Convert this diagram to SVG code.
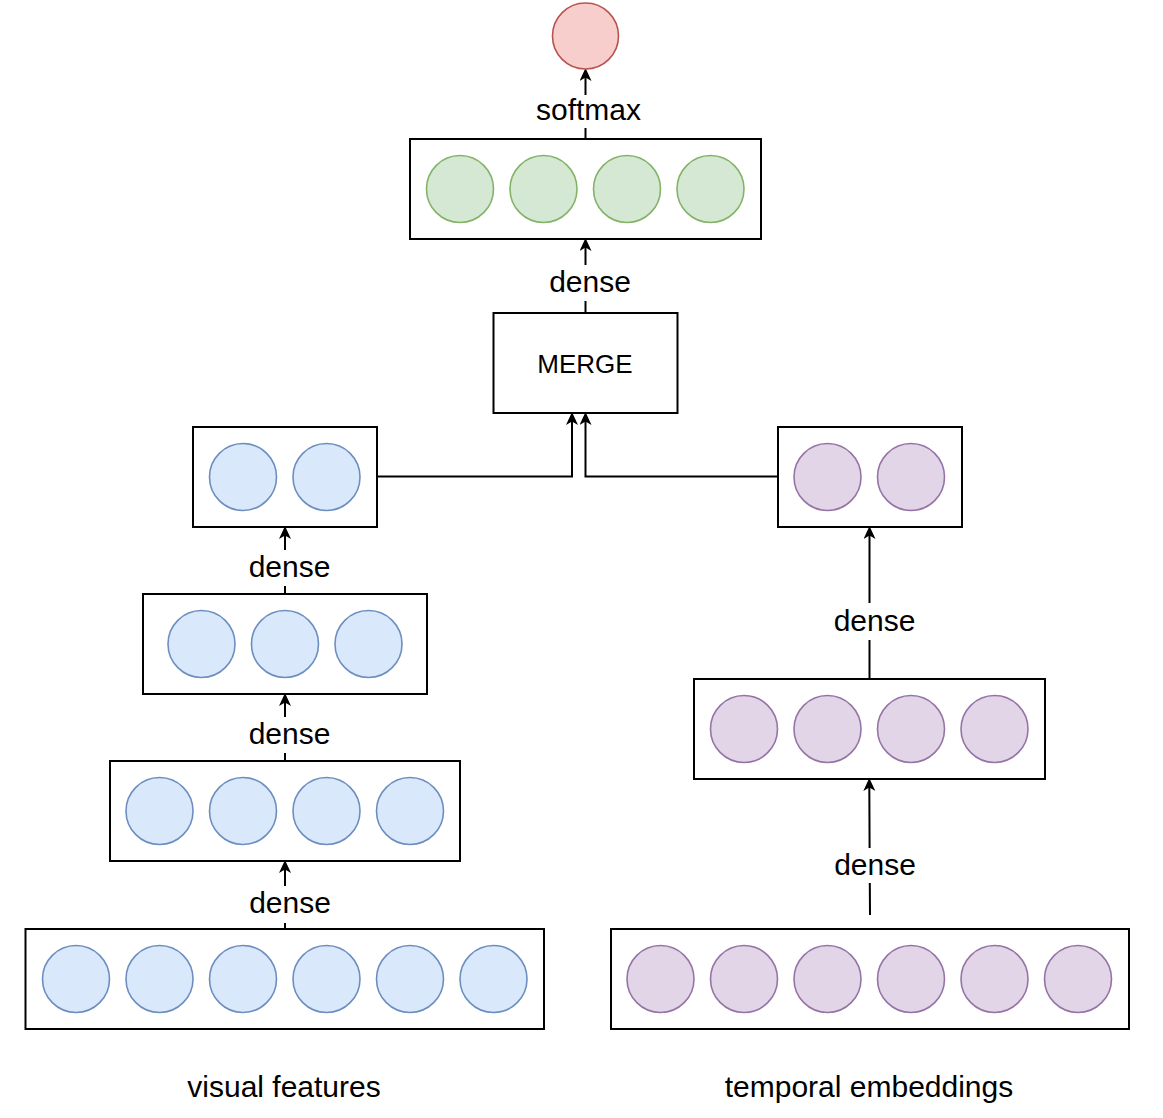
<svg xmlns="http://www.w3.org/2000/svg" width="1163" height="1118" viewBox="0 0 1163 1118">
<style>
.box{fill:#fff;stroke:#000;stroke-width:2}
.c{stroke-width:1.6}
.blue{fill:#dae8fc;stroke:#6c8ebf}
.purple{fill:#e1d5e7;stroke:#9673a6}
.green{fill:#d5e8d4;stroke:#82b366}
.red{fill:#f8cecc;stroke:#b85450}
.lbl{font-family:"Liberation Sans",Arial,sans-serif;font-size:30px;fill:#000;text-anchor:middle}
.conn{fill:none;stroke:#000;stroke-width:2}
</style>
<defs>
<marker id="arr" markerUnits="userSpaceOnUse" viewBox="0 0 13 12" refX="6" refY="6" markerWidth="13" markerHeight="12" orient="auto">
<path d="M0,0 L13,6 L0,12 L3.5,6 Z" fill="#000"/>
</marker>
</defs>
<g id="connectors">
<path class="conn" d="M585.5,139 V128 M585.5,95 V75" marker-end="url(#arr)"/>
<path class="conn" d="M585.5,313 V301 M585.5,265 V245" marker-end="url(#arr)"/>
<path class="conn" d="M377,476.5 H572 V419" marker-end="url(#arr)"/>
<path class="conn" d="M778,476.5 H585.5 V419" marker-end="url(#arr)"/>
<path class="conn" d="M285,594 V586 M285,550 V533" marker-end="url(#arr)"/>
<path class="conn" d="M285,761 V753 M285,717 V700" marker-end="url(#arr)"/>
<path class="conn" d="M285,929 V923 M285,886 V867" marker-end="url(#arr)"/>
<path class="conn" d="M869.5,679 V640 M869.5,603 V533" marker-end="url(#arr)"/>
<path class="conn" d="M870,915 L869.8,883 M869.6,848 L869.3,785" marker-end="url(#arr)"/>
</g>
<g id="output">
<circle class="c red" cx="585.5" cy="36" r="33"/>
</g>
<g id="label-softmax"><text class="lbl" x="588.5" y="119.5">softmax</text></g>
<g id="dense-out">
<rect class="box" x="410" y="139" width="351" height="100"/>
<circle class="c green" cx="460" cy="189" r="33.5"/>
<circle class="c green" cx="543.5" cy="189" r="33.5"/>
<circle class="c green" cx="627" cy="189" r="33.5"/>
<circle class="c green" cx="710.5" cy="189" r="33.5"/>
</g>
<g id="label-dense-top"><text class="lbl" x="590" y="292">dense</text></g>
<g id="merge">
<rect class="box" x="493.5" y="313" width="184" height="100"/>
<text class="lbl" x="585" y="372.5" style="font-size:26px">MERGE</text>
</g>
<g id="visual-2">
<rect class="box" x="193" y="427" width="184" height="100"/>
<circle class="c blue" cx="243" cy="477" r="33.5"/>
<circle class="c blue" cx="326.5" cy="477" r="33.5"/>
</g>
<g id="label-dense-v3"><text class="lbl" x="289.5" y="577">dense</text></g>
<g id="visual-3">
<rect class="box" x="143" y="594" width="284" height="100"/>
<circle class="c blue" cx="201.5" cy="644" r="33.5"/>
<circle class="c blue" cx="285" cy="644" r="33.5"/>
<circle class="c blue" cx="368.5" cy="644" r="33.5"/>
</g>
<g id="label-dense-v2"><text class="lbl" x="289.5" y="744">dense</text></g>
<g id="visual-4">
<rect class="box" x="110" y="761" width="350" height="100"/>
<circle class="c blue" cx="159.5" cy="811" r="33.5"/>
<circle class="c blue" cx="243" cy="811" r="33.5"/>
<circle class="c blue" cx="326.5" cy="811" r="33.5"/>
<circle class="c blue" cx="410" cy="811" r="33.5"/>
</g>
<g id="label-dense-v1"><text class="lbl" x="290" y="913">dense</text></g>
<g id="visual-6">
<rect class="box" x="25.5" y="929" width="518.5" height="100"/>
<circle class="c blue" cx="76" cy="979" r="33.5"/>
<circle class="c blue" cx="159.5" cy="979" r="33.5"/>
<circle class="c blue" cx="243" cy="979" r="33.5"/>
<circle class="c blue" cx="326.5" cy="979" r="33.5"/>
<circle class="c blue" cx="410" cy="979" r="33.5"/>
<circle class="c blue" cx="493.5" cy="979" r="33.5"/>
</g>
<g id="label-visual"><text class="lbl" x="284" y="1097">visual features</text></g>
<g id="temporal-2">
<rect class="box" x="778" y="427" width="184" height="100"/>
<circle class="c purple" cx="827.5" cy="477" r="33.5"/>
<circle class="c purple" cx="911" cy="477" r="33.5"/>
</g>
<g id="label-dense-t2"><text class="lbl" x="874.5" y="631">dense</text></g>
<g id="temporal-4">
<rect class="box" x="694" y="679" width="351" height="100"/>
<circle class="c purple" cx="744" cy="729" r="33.5"/>
<circle class="c purple" cx="827.5" cy="729" r="33.5"/>
<circle class="c purple" cx="911" cy="729" r="33.5"/>
<circle class="c purple" cx="994.5" cy="729" r="33.5"/>
</g>
<g id="label-dense-t1"><text class="lbl" x="875" y="875">dense</text></g>
<g id="temporal-6">
<rect class="box" x="611" y="929" width="518" height="100"/>
<circle class="c purple" cx="660.5" cy="979" r="33.5"/>
<circle class="c purple" cx="744" cy="979" r="33.5"/>
<circle class="c purple" cx="827.5" cy="979" r="33.5"/>
<circle class="c purple" cx="911" cy="979" r="33.5"/>
<circle class="c purple" cx="994.5" cy="979" r="33.5"/>
<circle class="c purple" cx="1078" cy="979" r="33.5"/>
</g>
<g id="label-temporal"><text class="lbl" x="869" y="1097">temporal embeddings</text></g>
</svg>
